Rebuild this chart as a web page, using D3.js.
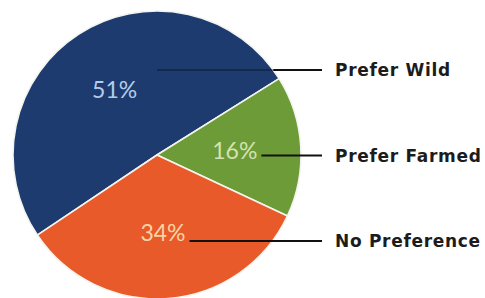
<!DOCTYPE html>
<html>
<head>
<meta charset="utf-8">
<script src="https://cdn.jsdelivr.net/npm/d3@7"></script>
<style>
  body { margin: 0; background: #fff; }
  svg { display: block; }
</style>
</head>
<body>
<svg width="485" height="298"></svg>
<script>
  var categories = ["Prefer Wild", "Prefer Farmed", "No Preference"]
  var values = [51, 16, 34]
  var pctLabels = ["51%", "16%", "34%"]

  var colors = ["#1e3b70", "#6d9b38", "#e85a2a"]
  var pctColors = ["#b3cde8", "#d3e2b2", "#f8d3a6"]

  var width = 485, height = 298
  var cx = 157, cy = 155, r = 144

  var svg = d3.select("svg")

  var data = categories.map(function (c, i) {
    return { name: c, value: values[i], pct: pctLabels[i], i: i }
  })

  // blue slice ends ~58deg clockwise from 12 o'clock
  var total = d3.sum(values)
  var start = (58 - values[0] / total * 360) * Math.PI / 180
  var pie = d3.pie()
    .sort(null)
    .value(function (d) { return d.value })
    .startAngle(start)
    .endAngle(start + 2 * Math.PI)

  var arcs = pie(data)
  var arc = d3.arc().innerRadius(0).outerRadius(r)
  var labelArc = d3.arc().innerRadius(78).outerRadius(78)

  var g = svg.append("g").attr("transform", "translate(" + cx + "," + cy + ")")

  g.selectAll("path")
    .data(arcs)
    .enter().append("path")
    .attr("d", arc)
    .attr("fill", function (d) { return colors[d.data.i] })
    .attr("stroke", "#f4f4ee")
    .attr("stroke-width", 1.6)
    .attr("stroke-linejoin", "round")

  var pctText = g.selectAll("text.pct")
    .data(arcs)
    .enter().append("text")
    .attr("class", "pct")
    .attr("x", function (d) { return labelArc.centroid(d)[0] })
    .attr("y", function (d) { return labelArc.centroid(d)[1] })
    .attr("text-anchor", "middle")
    .attr("dy", "0.36em")
    .attr("font-family", "Lato, 'Open Sans', sans-serif")
    .attr("font-size", 23)
    .attr("fill", function (d) { return pctColors[d.data.i] })
    .text(function (d) { return d.data.pct })

  // legend rows
  var rowY = d3.scalePoint().domain(categories).range([70, 241])
  var lineEnd = 322, textX = 335

  var lines = svg.append("g")
  pctText.each(function (d) {
    var bb = this.getBBox()
    var y = rowY(d.data.name)
    var ly = cy + bb.y + bb.height / 2
    if (Math.abs(ly - y) < 12) {
      lines.append("line")
        .attr("x1", cx + bb.x + bb.width + 4).attr("x2", lineEnd)
        .attr("y1", y).attr("y2", y)
        .attr("stroke", "#111").attr("stroke-width", 2)
    } else {
      var edge = cx + Math.sqrt(r * r - (cy - y) * (cy - y))
      lines.append("line")
        .attr("x1", cx).attr("x2", edge)
        .attr("y1", y).attr("y2", y)
        .attr("stroke", "#000").attr("stroke-opacity", 0.3).attr("stroke-width", 2)
      lines.append("line")
        .attr("x1", edge).attr("x2", lineEnd)
        .attr("y1", y).attr("y2", y)
        .attr("stroke", "#111").attr("stroke-width", 2)
    }
  })

  svg.append("g").selectAll("text")
    .data(categories)
    .enter().append("text")
    .attr("x", textX)
    .attr("y", function (d) { return rowY(d) })
    .attr("dy", "0.36em")
    .attr("font-family", "'DejaVu Sans', sans-serif")
    .attr("font-weight", "bold")
    .attr("font-size", 17)
    .attr("letter-spacing", 0.7)
    .attr("fill", "#1c1c1c")
    .text(function (d) { return d })
</script>
</body>
</html>
